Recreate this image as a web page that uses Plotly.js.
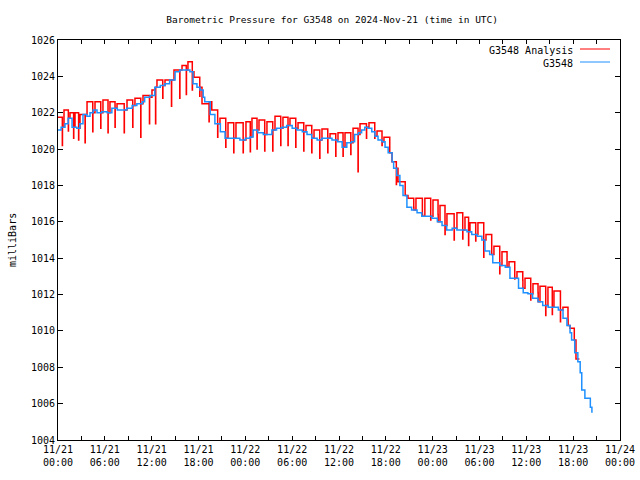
<!DOCTYPE html>
<html><head><meta charset="utf-8">
<script src="https://cdn.plot.ly/plotly-3.0.1.min.js"></script>
<style>html,body{margin:0;padding:0;background:#fff}#c{width:640px;height:480px}</style>
</head><body><div id="c"></div>
<script>
// Hours since 2024-11-21 00:00 UTC
const obsHours = [0.0,0.4,0.9,1.3,1.8,2.4,2.8,3.2,3.7,4.1,4.5,5.0,5.6,6.3,6.9,7.6,8.2,8.8,9.5,10.1,10.8,11.1,11.8,12.4,13.1,13.7,14.3,15.0,15.6,16.3,16.9,17.3,17.8,18.2,18.6,18.8,19.5,20.1,20.8,21.4,22.0,22.7,23.3,24.0,24.6,25.0,25.6,26.3,26.9,27.4,28.0,28.7,29.3,30.0,30.6,31.3,31.9,32.5,33.2,33.8,34.5,35.1,35.8,36.4,37.0,37.6,38.0,38.5,38.9,39.3,39.7,40.2,40.6,41.0,41.5,41.9,42.3,42.8,43.0,43.4,43.8,44.2,44.7,45.3,46.0,46.6,47.3,47.9,48.6,49.2,49.8,50.5,51.1,51.7,52.4,53.0,53.7,54.3,54.7,55.3,55.7,56.6,57.3,57.9,58.5,59.0,59.6,60.2,60.8,61.5,62.1,62.8,63.4,64.1,64.7,65.2,65.6,65.8,66.2,66.6,66.9,67.1,67.5,67.9,68.2,68.4];
const obsValues = [1021.05,1021.2,1021.4,1021.7,1021.2,1021.15,1021.4,1021.9,1021.8,1022.0,1022.15,1022.0,1022.05,1022.0,1022.25,1022.15,1022.15,1022.25,1022.4,1022.5,1022.6,1022.85,1022.95,1023.4,1023.5,1023.6,1023.8,1024.25,1024.35,1024.35,1024.25,1023.6,1023.4,1023.25,1022.85,1022.6,1021.9,1021.4,1020.95,1020.6,1020.6,1020.6,1020.5,1020.6,1020.67,1021.05,1020.9,1020.8,1020.8,1021.05,1021.15,1021.2,1021.3,1021.15,1021.05,1020.95,1020.8,1020.6,1020.5,1020.6,1020.6,1020.5,1020.4,1020.1,1020.35,1020.4,1020.8,1020.9,1021.05,1021.2,1021.15,1020.95,1020.7,1020.5,1020.4,1020.1,1019.8,1019.3,1018.95,1018.55,1018.0,1017.45,1016.8,1016.65,1016.5,1016.3,1016.3,1016.2,1016.0,1015.8,1015.55,1015.65,1015.55,1015.55,1015.45,1015.3,1015.2,1015.0,1014.4,1014.2,1013.75,1013.6,1013.5,1012.9,1012.9,1012.35,1012.1,1012.05,1011.8,1011.6,1011.4,1011.3,1011.3,1011.15,1010.7,1010.3,1009.9,1009.5,1008.8,1008.3,1007.7,1006.75,1006.3,1006.3,1005.8,1005.5];

// Analysis: start hour of each step, step level, and the low value it drops to
const anaHours = [0.0,0.77,1.54,2.18,2.82,3.72,4.74,5.76,6.66,7.56,8.84,9.86,10.89,12.04,12.68,13.71,14.86,15.89,16.65,17.42,18.45,19.7,20.75,21.78,22.8,24.08,24.85,25.75,26.77,27.8,28.82,29.72,30.75,31.77,32.8,33.82,34.85,35.87,36.77,37.8,38.69,39.84,40.87,41.76,42.79,43.56,44.84,45.86,47.0,48.04,48.94,49.83,51.11,52.14,52.78,53.8,54.83,55.85,56.88,57.78,58.8,59.83,60.85,61.75,62.77,63.54,64.69,65.59,66.36];
const anaValues = [1021.75,1022.15,1022.0,1022.0,1021.9,1022.6,1022.6,1022.7,1022.6,1022.5,1022.7,1022.8,1022.95,1023.25,1023.8,1023.8,1024.35,1024.6,1024.8,1023.95,1022.5,1022.15,1021.7,1021.45,1021.45,1021.5,1021.7,1021.6,1021.5,1021.8,1021.75,1021.7,1021.45,1021.3,1021.05,1021.1,1020.85,1020.9,1020.9,1021.15,1021.4,1021.45,1021.0,1020.65,1019.3,1018.2,1017.3,1017.3,1017.3,1017.2,1016.9,1016.45,1016.5,1016.25,1015.95,1015.95,1015.3,1014.65,1014.35,1013.8,1013.25,1012.9,1012.6,1012.45,1012.4,1012.2,1011.3,1010.15,1008.45];
const anaDips = [1020.2,1021.0,1020.6,1020.5,1020.35,1020.95,1021.15,1020.9,1021.2,1020.9,1021.2,1020.65,1021.4,1021.4,1022.8,1022.35,1022.8,1023.0,1023.25,1022.9,1021.5,1020.65,1020.1,1019.8,1019.8,1019.85,1020.0,1019.9,1019.9,1020.2,1020.2,1020.1,1019.9,1019.8,1019.5,1019.8,1019.6,1019.6,1019.7,1018.75,1020.6,1020.6,1020.2,1019.8,1018.05,1017.5,1016.8,1016.4,1016.1,1016.4,1015.3,1015.0,1015.05,1014.7,1014.95,1014.05,1014.2,1013.15,1013.5,1012.85,1012.8,1011.7,1012.1,1010.85,1010.9,1010.5,1010.6,1009.5,1008.45];
const anaEndHour = 66.8;

const xTickText = ['11/21<br>00:00','11/21<br>06:00','11/21<br>12:00','11/21<br>18:00','11/22<br>00:00','11/22<br>06:00','11/22<br>12:00','11/22<br>18:00','11/23<br>00:00','11/23<br>06:00','11/23<br>12:00','11/23<br>18:00','11/24<br>00:00'];
const xTickHours = [0,6,12,18,24,30,36,42,48,54,60,66,72];
const yTicks = [1004,1006,1008,1010,1012,1014,1016,1018,1020,1022,1024,1026];

function pad(n){return (n<10?'0':'')+n;}
function toDate(h){
  const d = new Date(Date.UTC(2024,10,21) + Math.round(h*3600000));
  return d.getUTCFullYear()+'-'+pad(d.getUTCMonth()+1)+'-'+pad(d.getUTCDate())+' '+pad(d.getUTCHours())+':'+pad(d.getUTCMinutes())+':'+pad(d.getUTCSeconds());
}
// observed value held at hour h (matches the stepped blue line)
function obsAt(h){
  let v = obsValues[0];
  for (let k=0;k<obsHours.length;k++){ if (obsHours[k] <= h) v = obsValues[k]; else break; }
  return v;
}

// build analysis path: step up to analysis level, hold, drop to the dip, return to the observed level
const ax = [], ay = [];
for (let i=0;i<anaHours.length;i++){
  ax.push(toDate(anaHours[i])); ay.push(anaValues[i]);
  if (i < anaHours.length-1){
    const e = anaHours[i] + 0.72*(anaHours[i+1]-anaHours[i]);
    ax.push(toDate(e)); ay.push(anaDips[i]);
    ax.push(toDate(e+0.02)); ay.push(obsAt(e+0.02));
  } else {
    ax.push(toDate(anaEndHour)); ay.push(anaValues[i]);
  }
}

const font = 'DejaVu Sans Mono, monospace';
const traces = [
  {x: ax, y: ay, type:'scatter', mode:'lines', line:{color:'#ff0000', width:1.5, shape:'hv'}, name:'G3548 Analysis', showlegend:false},
  {x: obsHours.map(toDate), y: obsValues, type:'scatter', mode:'lines', line:{color:'#1e90ff', width:1.5, shape:'hv'}, name:'G3548', showlegend:false}
];

const L=58, R=620, T=40, B=440;
const px = v => (v-L)/(R-L);
const py = v => (B-v)/(B-T);

const layout = {
  width:640, height:480,
  margin:{l:L, r:640-R, t:T, b:480-B, pad:0},
  paper_bgcolor:'#fff', plot_bgcolor:'#fff',
  font:{family:font, size:10, color:'#000'},
  title:{text:'Barometric Pressure for G3548 on 2024-Nov-21 (time in UTC)', font:{family:font, size:9.5, color:'#000'}, x:0.519, xref:'container', xanchor:'center', y:1-20/480, yref:'container', yanchor:'middle'},
  xaxis:{type:'date', range:[toDate(0), toDate(72)], tickvals:xTickHours.map(toDate), ticktext:xTickText,
    ticks:'inside', ticklen:4, tickcolor:'#000', showline:true, linecolor:'#000', linewidth:1, mirror:'ticks',
    showgrid:false, zeroline:false, automargin:false, tickfont:{family:font, size:10},
    minor:{dtick:10800000, tick0:toDate(0), ticks:'inside', ticklen:4, tickcolor:'#000', showgrid:false}},
  yaxis:{range:[1004,1026], tickvals:yTicks, ticks:'inside', ticklen:5, tickcolor:'#000', showline:true, linecolor:'#000', linewidth:1, mirror:'ticks',
    showgrid:false, zeroline:false, automargin:false, tickfont:{family:font, size:10}},
  annotations:[
    {text:'milliBars', textangle:-90, xref:'paper', yref:'paper', x:px(12), y:py(240), xanchor:'center', yanchor:'middle', showarrow:false, font:{family:font, size:10}},
    {text:'G3548 Analysis', xref:'paper', yref:'paper', x:px(575), y:py(50), xanchor:'right', yanchor:'middle', showarrow:false, font:{family:font, size:10}},
    {text:'G3548', xref:'paper', yref:'paper', x:px(575), y:py(63), xanchor:'right', yanchor:'middle', showarrow:false, font:{family:font, size:10}}
  ],
  shapes:[
    {type:'line', xref:'paper', yref:'paper', x0:px(580), x1:px(610), y0:py(49), y1:py(49), line:{color:'#ff0000', width:1}},
    {type:'line', xref:'paper', yref:'paper', x0:px(580), x1:px(610), y0:py(62), y1:py(62), line:{color:'#1e90ff', width:1}}
  ],
  showlegend:false
};
Plotly.newPlot('c', traces, layout, {staticPlot:true, displayModeBar:false});
</script></body></html>
